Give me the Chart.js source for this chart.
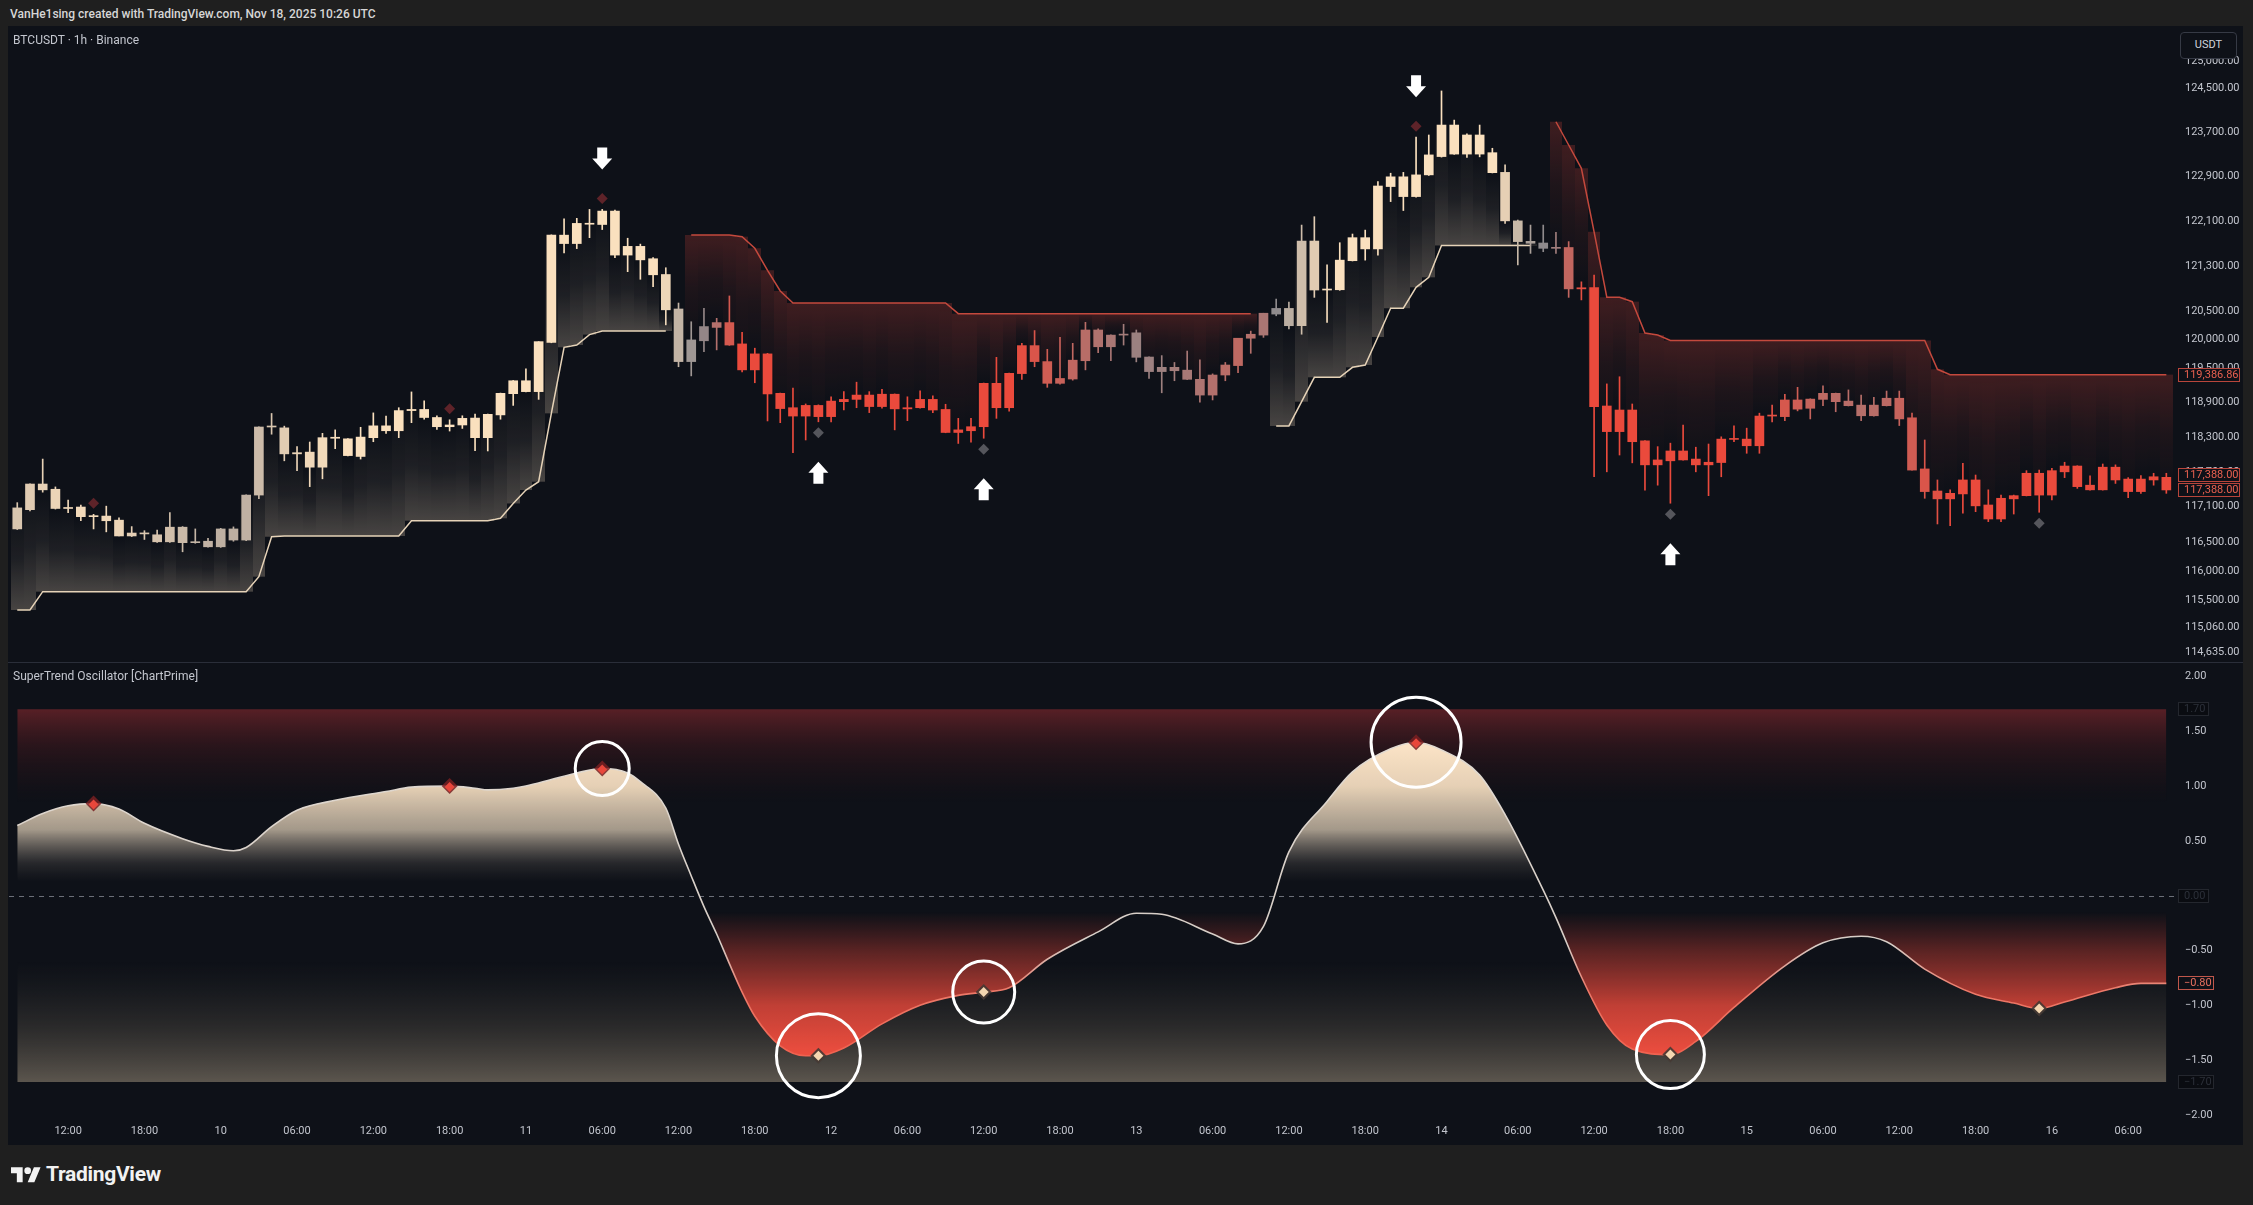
<!DOCTYPE html>
<html lang="en">
<head>
<meta charset="utf-8">
<title>BTCUSDT · 1h · SuperTrend Oscillator [ChartPrime]</title>
<script src="https://cdn.jsdelivr.net/npm/chart.js@4.4.1/dist/chart.umd.min.js"></script>
<style>
  html, body { margin: 0; padding: 0; }
  body { position: relative; width: 2253px; height: 1205px; overflow: hidden; background: #1f1f1f;
         font-family: Roboto, 'Noto Sans', 'DejaVu Sans', sans-serif; }
  #header { position: absolute; left: 10px; top: 7px; font-size: 12px; font-weight: 500; color: #d6d6d6; white-space: nowrap; }
  #panel { position: absolute; left: 8px; top: 26px; width: 2235px; height: 1119px; background: #0e1118; }
  .pane { position: absolute; left: 0; width: 2235px; }
  #pricePane { top: 0; height: 636px; }
  #oscPane { top: 637px; height: 482px; }
  #sep { position: absolute; left: 0; top: 636px; width: 2235px; height: 1px; background: #2a2e39; }
  .pane-title { position: absolute; left: 5px; font-size: 12px; line-height: 14px; color: #c3c6ce; white-space: nowrap; pointer-events: none; }
  #unit { position: absolute; left: 2172px; top: 6px; width: 57px; height: 27px; box-sizing: border-box; border: 1px solid #363a45;
          border-radius: 4px; background: #0e1118; color: #d1d4dc; font-size: 11px; line-height: 24px; text-align: center; }
  #footer { position: absolute; left: 11px; top: 1162px; display: flex; align-items: center; gap: 5px; color: #f2f2f2;
            font-size: 21px; font-weight: 700; letter-spacing: -0.3px; }
</style>
</head>
<body>
<div id="header">VanHe1sing created with TradingView.com, Nov 18, 2025 10:26 UTC</div>
<div id="panel">
  <div class="pane" id="pricePane"><canvas id="price" width="2235" height="636"></canvas></div>
  <div id="sep"></div>
  <div class="pane" id="oscPane"><canvas id="osc" width="2235" height="482"></canvas></div>
  <div class="pane-title" style="top:7px">BTCUSDT · 1h · Binance</div>
  <div class="pane-title" style="top:643px">SuperTrend Oscillator [ChartPrime]</div>
  <div id="unit">USDT</div>
</div>
<div id="footer">
  <svg width="30" height="20" viewBox="0 0 36 24"><path fill="#f2f2f2" d="M14 22H7V11H0V4h14v18zM28 22h-8l7.5-18h8L28 22z"/><circle fill="#f2f2f2" cx="20" cy="8" r="4"/></svg>
  <span>TradingView</span>
</div>

<script>
/* ════════════════════════════════════════════
   BTCUSDT 1h — candles, SuperTrend, oscillator
   ════════════════════════════════════════════ */

const _ = null;

// ── Candles (bar 0 = Nov 9 08:00, one bar per hour) ──
const openP = [
  116720,117050,117490,117400,117070,117095,116930,116940,116870,116600,
  116650,116620,116500,116750,116485,116510,116415,116720,116530,117300,
  118475,118460,118010,118040,117780,118290,118270,117965,118290,118495,
  118410,118760,118780,118640,118480,118510,118630,118290,118685,119055,
  119280,119090,119950,121850,121700,122060,122040,122280,121495,121650,
  121430,121150,120540,119615,119980,120215,120300,119925,119470,119750,
  119060,118810,118665,118850,118655,118915,118955,119030,118830,119045,
  118790,118810,118955,118780,118380,118410,118480,119235,118810,119405,
  119895,119615,119235,119310,119630,120170,119875,120080,120120,119695,
  119440,119515,119465,119305,119030,119380,119545,120025,120080,120450,
  120550,120245,121745,120875,120880,121395,121805,121605,122720,122895,
  122540,122930,123260,123830,123305,123650,123330,122975,122105,121740,
  121710,121615,121630,120895,120920,118840,118395,118770,118235,117820,
  117890,118060,117920,117820,117860,118265,118265,118150,118665,118655,
  118945,118800,118955,119060,118925,118855,118670,118845,118975,118635,
  117750,117370,117235,117320,117560,117130,116890,117235,117290,117675,
  117300,117700,117800,117470,117390,117780,117575,117360,117560,117605
];
const highP = [
  117170,117495,117920,117440,117215,117130,116970,117110,116910,116760,
  116690,116700,117000,116760,116720,116560,116730,116755,117305,118480,
  118710,118490,118135,118215,118365,118425,118275,118470,118720,118665,
  118810,119085,118930,118670,118600,118670,118700,118700,119065,119285,
  119490,119965,121855,122140,122150,122310,122310,122300,121795,121690,
  121450,121270,120645,120315,120550,120375,120770,120130,119850,119760,
  119065,119150,118875,118860,119000,119090,119255,119090,119130,119050,
  119000,119105,119015,118870,118625,118625,119240,119690,119415,119935,
  120160,119830,120040,119935,120305,120190,120085,120270,120170,119700,
  119720,119600,119800,119645,119400,119600,120025,120150,120465,120715,
  120660,122030,122180,121320,121715,121870,121940,122810,122960,122975,
  123610,123650,124450,123920,123670,123830,123410,123110,122120,122030,
  122030,121900,121735,121020,121140,119225,119350,118875,118240,118135,
  118195,118510,118125,118180,118305,118495,118455,118715,118855,119045,
  119165,118965,119190,119065,119120,119030,118990,119100,119100,118715,
  118250,117560,117390,117845,117645,117390,117300,117300,117720,117730,
  117760,117865,117805,117630,117835,117820,117600,117635,117675,117675
];
const lowP = [
  116710,117030,117350,117060,117000,116860,116720,116670,116600,116590,
  116540,116490,116490,116330,116475,116410,116405,116510,116520,117240,
  118350,117890,117720,117445,117580,118100,117975,117920,118220,118365,
  118290,118550,118610,118435,118405,118450,118065,118060,118610,118850,
  119085,118955,119945,121535,121610,121805,121950,121450,121200,121065,
  120935,120260,119525,119365,119790,119820,119900,119435,119245,118580,
  118550,118030,118250,118565,118565,118770,118810,118725,118800,118425,
  118585,118800,118725,118375,118190,118210,118280,118625,118750,119305,
  119525,119165,119220,119290,119470,119770,119630,119905,119610,119320,
  119070,119280,119300,118905,118945,119280,119420,119760,120040,120420,
  120190,120095,120745,120305,120870,121390,121405,121495,122450,122290,
  122530,122920,123250,123300,123245,123255,122965,122060,121320,121525,
  121555,121525,120745,120700,117615,117700,117990,117855,117385,117470,
  117160,117900,117700,117290,117615,118220,118020,118020,118565,118585,
  118755,118615,118845,118740,118840,118585,118665,118840,118500,117730,
  117245,116805,116775,116990,117015,116845,116845,116975,117285,117005,
  117215,117600,117415,117385,117385,117500,117255,117330,117470,117330
];
const closeP = [
  117080,117490,117390,117070,117085,116930,116940,116860,116600,116650,
  116635,116500,116750,116485,116500,116415,116720,116530,117300,118475,
  118480,118010,118030,117780,118290,118280,117980,118300,118495,118410,
  118760,118780,118640,118480,118510,118625,118290,118695,119060,119280,
  119090,119965,121850,121700,122060,122045,122280,121495,121650,121410,
  121145,120525,119615,119995,120230,120300,119905,119470,119750,119050,
  118795,118665,118850,118655,118925,118955,119030,118830,119045,118790,
  118810,118955,118770,118380,118425,118480,119235,118810,119410,119895,
  119615,119235,119320,119640,120170,119875,120080,120095,119690,119440,
  119515,119455,119305,119030,119380,119555,120025,120095,120465,120550,
  120245,121745,120875,120880,121405,121805,121605,122730,122895,122540,
  122930,123290,123830,123305,123650,123305,122970,122105,121735,121705,
  121615,121625,120895,120915,118830,118395,118770,118220,117820,117905,
  118060,117905,117820,117865,118265,118260,118150,118665,118670,118945,
  118785,118960,119060,118915,118845,118670,118855,118975,118615,117730,
  117360,117235,117330,117560,117115,116890,117245,117290,117675,117300,
  117720,117800,117445,117390,117780,117560,117360,117575,117615,117388
];

// ── SuperTrend levels (null = other side / switch bar) ──
const stUp = [
  115343,115343,115653,115653,115653,115653,115653,115653,115653,115653,
  115653,115653,115653,115653,115653,115653,115653,115653,115653,115907,
  116587,116599,116599,116599,116599,116599,116599,116599,116599,116599,
  116599,116861,116861,116861,116861,116861,116861,116861,116902,117156,
  117387,117530,118712,119866,119906,120089,120152,120152,120152,120152,
  120152,120152,_,_,_,_,_,_,_,_,
  _,_,_,_,_,_,_,_,_,_,
  _,_,_,_,_,_,_,_,_,_,
  _,_,_,_,_,_,_,_,_,_,
  _,_,_,_,_,_,_,_,_,118493,
  118493,118915,119340,119340,119340,119515,119556,120047,120553,120553,
  120923,121100,121666,121666,121666,121666,121666,121666,121666,121666,
  _,_,_,_,_,_,_,_,_,_,
  _,_,_,_,_,_,_,_,_,_,
  _,_,_,_,_,_,_,_,_,_,
  _,_,_,_,_,_,_,_,_,_,
  _,_,_,_,_,_,_,_,_,_
];
const stDn = [
  _,_,_,_,_,_,_,_,_,_,
  _,_,_,_,_,_,_,_,_,_,
  _,_,_,_,_,_,_,_,_,_,
  _,_,_,_,_,_,_,_,_,_,
  _,_,_,_,_,_,_,_,_,_,
  _,_,_,121853,121853,121853,121853,121823,121616,121225,
  120858,120645,120645,120645,120645,120645,120645,120645,120645,120645,
  120645,120645,120645,120645,120457,120457,120457,120457,120457,120457,
  120457,120457,120457,120457,120457,120457,120457,120457,120457,120457,
  120457,120457,120457,120457,120457,120457,120457,120457,_,_,
  _,_,_,_,_,_,_,_,_,_,
  _,_,_,_,_,_,_,_,_,_,
  _,123890,123469,123049,121910,120747,120747,120669,120117,120082,
  119985,119985,119985,119985,119985,119985,119985,119985,119985,119985,
  119985,119985,119985,119985,119985,119985,119985,119985,119985,119985,
  119985,119480,119386.86,119386.86,119386.86,119386.86,119386.86,119386.86,119386.86,119386.86,
  119386.86,119386.86,119386.86,119386.86,119386.86,119386.86,119386.86,119386.86,119386.86,119386.86
];

// ── Oscillator (bar index → value) ────────────
const oscBars = [0,2,4,6,8,10,13,15,17,18,20,22,25,29,31,34,36,37,39,40,42,44,46,48,49,51,52,53,54,55,
  56,57,58,60,62,63,65,68,71,74,76,78,81,85,88,90,94,96,98,100,103,105,108,110,112,115,117,120,121,123,
  125,127,130,132,135,139,142,145,147,150,154,157,159,161,165,167,169];
const oscVals = [0.64,0.75,0.82,0.84,0.79,0.66,0.52,0.45,0.41,0.44,0.63,0.78,0.87,0.95,0.99,1.00,0.98,0.965,0.98,1.00,
  1.06,1.12,1.16,1.12,1.04,0.80,0.47,0.18,-0.10,-0.35,-0.62,-0.88,-1.10,-1.37,-1.46,-1.46,-1.39,-1.17,-1.00,-0.91,
  -0.88,-0.84,-0.58,-0.33,-0.16,-0.17,-0.35,-0.44,-0.28,0.40,0.86,1.13,1.34,1.40,1.33,1.10,0.74,0.05,-0.20,-0.74,
  -1.18,-1.40,-1.45,-1.33,-1.02,-0.64,-0.43,-0.37,-0.42,-0.67,-0.90,-0.98,-1.03,-0.97,-0.84,-0.80,-0.80];
const oscBand = 1.7;

// ── Signals ───────────────────────────────────
const pivotHighs = [6, 34, 46, 110];
const pivotLows = [63, 76, 130, 159];
const signalBars = [46, 63, 76, 110, 130];

// ── Axis ticks ────────────────────────────────
const priceTicks = [125000, 124500, 123700, 122900, 122100, 121300, 120500, 120000, 119500, 118900,
  118300, 117700, 117100, 116500, 116000, 115500, 115060, 114635];
const oscTicks = [2, 1.5, 1, 0.5, -0.5, -1, -1.5, -2];
const timeTicks = ['12:00','18:00','10','06:00','12:00','18:00','11','06:00','12:00','18:00','12','06:00',
  '12:00','18:00','13','06:00','12:00','18:00','14','06:00','12:00','18:00','15','06:00','12:00','18:00','16','06:00'];

// ── Layout / style constants ──────────────────
const FONT = "Roboto, 'Noto Sans', sans-serif";
const AXIS_W = 67;
const X_MIN = -0.65, X_MAX = 169.76;
const RING_R = { 46: 27, 63: 42, 76: 31, 110: 45, 130: 34 };
const C_GRAY = [142, 138, 140], C_CREAM = [250, 224, 190], C_RED = [234, 74, 60];

Chart.defaults.font.family = FONT;

// ── Helpers ───────────────────────────────────
function oscAt(i) {
  for (let k = 1; k < oscBars.length; k++) {
    if (i <= oscBars[k]) {
      const t = (i - oscBars[k - 1]) / (oscBars[k] - oscBars[k - 1]);
      return oscVals[k - 1] + t * (oscVals[k] - oscVals[k - 1]);
    }
  }
  return oscVals[oscVals.length - 1];
}
function mix(a, b, t) {
  t = Math.min(1, Math.max(0, t));
  return `rgb(${a.map((v, k) => Math.round(v + (b[k] - v) * t)).join(',')})`;
}
function candleColor(v) {
  return v >= 0 ? mix(C_GRAY, C_CREAM, (v - 0.05) / 0.85) : mix(C_GRAY, C_RED, (-v - 0.05) / 0.75);
}
const fmtPrice = v => Number(v).toLocaleString('en-US', { minimumFractionDigits: 2, maximumFractionDigits: 2 });
const fmtOsc = v => (v < 0 ? '\u2212' : '') + Math.abs(v).toFixed(2);

function diamond(ctx, cx, cy, r, color) {
  ctx.beginPath();
  ctx.moveTo(cx, cy - r); ctx.lineTo(cx + r, cy); ctx.lineTo(cx, cy + r); ctx.lineTo(cx - r, cy);
  ctx.closePath();
  ctx.fillStyle = color;
  ctx.fill();
}
// dir = 1 → body extends downward from the tip (up arrow), -1 → upward (down arrow)
function arrow(ctx, cx, tipY, dir) {
  const hw = 10, sw = 5, hh = 11, sh = 11;
  ctx.beginPath();
  ctx.moveTo(cx, tipY);
  ctx.lineTo(cx + hw, tipY + dir * hh);
  ctx.lineTo(cx + sw, tipY + dir * hh);
  ctx.lineTo(cx + sw, tipY + dir * (hh + sh));
  ctx.lineTo(cx - sw, tipY + dir * (hh + sh));
  ctx.lineTo(cx - sw, tipY + dir * hh);
  ctx.lineTo(cx - hw, tipY + dir * hh);
  ctx.closePath();
  ctx.fillStyle = '#ffffff';
  ctx.fill();
}
function axisBox(chart, value, text, o) {
  const { ctx, chartArea, scales: { y } } = chart;
  const cy = Math.round(y.getPixelForValue(value) + (o.shift || 0));
  const x0 = chartArea.right + 2, h = 14;
  ctx.save();
  ctx.fillStyle = o.bg || '#0e1118';
  ctx.fillRect(x0, cy - h / 2, o.w, h);
  ctx.strokeStyle = o.border;
  ctx.lineWidth = 1;
  ctx.strokeRect(x0 + 0.5, cy - h / 2 + 0.5, o.w - 1, h - 1);
  ctx.fillStyle = o.color;
  ctx.font = `11px ${FONT}`;
  ctx.textBaseline = 'middle';
  ctx.textAlign = 'left';
  ctx.fillText(text, x0 + 6, cy + 0.5);
  ctx.restore();
}
function vGrad(chart, stops) {
  const y = chart.scales.y;
  if (!chart.chartArea || !y) return 'transparent';
  const y0 = y.getPixelForValue(stops[0][0]), y1 = y.getPixelForValue(stops[stops.length - 1][0]);
  const g = chart.ctx.createLinearGradient(0, y0, 0, y1);
  stops.forEach(([v, c]) => g.addColorStop((y.getPixelForValue(v) - y0) / (y1 - y0), c));
  return g;
}
// keep the chart area exactly on the pane: no auto padding for edge labels
function noPad(s) { s.paddingTop = 0; s.paddingBottom = 0; s.paddingLeft = 0; s.paddingRight = 0; }

const candleCols = closeP.map((c, i) => candleColor(oscAt(i)));

// ── Price pane plugins ────────────────────────
const trendGlow = {
  id: 'trendGlow',
  beforeDatasetsDraw(chart) {
    const { ctx, chartArea: a, scales: { x, y } } = chart;
    ctx.save();
    ctx.beginPath(); ctx.rect(a.left, a.top, a.width, a.height); ctx.clip();
    closeP.forEach((c, i) => {
      const up = stUp[i], dn = stDn[i];
      const lvl = up != null ? up : dn;
      if (lvl == null) return;
      const yL = y.getPixelForValue(lvl), yC = y.getPixelForValue(c);
      const xl = Math.round(x.getPixelForValue(i - 0.5)), xr = Math.round(x.getPixelForValue(i + 0.5));
      const rgb = up != null ? '228,208,182' : '168,56,50';
      const g = ctx.createLinearGradient(0, yL, 0, yC);
      g.addColorStop(0, `rgba(${rgb},${up != null ? 0.27 : 0.32})`);
      g.addColorStop(0.5, `rgba(${rgb},${up != null ? 0.08 : 0.11})`);
      g.addColorStop(1, `rgba(${rgb},0)`);
      ctx.fillStyle = g;
      ctx.fillRect(xl, Math.min(yL, yC), xr - xl, Math.abs(yC - yL));
    });
    ctx.restore();
  }
};

const priceMarks = {
  id: 'priceMarks',
  afterDatasetsDraw(chart) {
    const { ctx, scales: { x, y } } = chart;
    ctx.save();
    pivotHighs.forEach(i => {
      const cx = x.getPixelForValue(i), top = y.getPixelForValue(highP[i]);
      diamond(ctx, cx, top - 11, 5.5, '#5e2329');
      if (signalBars.includes(i)) arrow(ctx, cx, top - 40, -1);
    });
    pivotLows.forEach(i => {
      const cx = x.getPixelForValue(i), bot = y.getPixelForValue(lowP[i]);
      diamond(ctx, cx, bot + 11, 5.5, '#55565c');
      if (signalBars.includes(i)) arrow(ctx, cx, bot + 40, 1);
    });
    ctx.restore();
  },
  afterDraw(chart) {
    const last = closeP.length - 1;
    const red = { w: 62, border: '#b8453b', color: '#e8604f' };
    axisBox(chart, stDn[last], fmtPrice(stDn[last]), red);
    axisBox(chart, closeP[last], fmtPrice(closeP[last]), { ...red, shift: -14.5 });
    axisBox(chart, closeP[last], fmtPrice(closeP[last]), red);
  }
};

// ── Price chart ───────────────────────────────
new Chart(document.getElementById('price'), {
  type: 'bar',
  data: {
    datasets: [
      {
        type: 'bar', label: 'Body', order: 0, grouped: false,
        data: closeP.map((c, i) => ({ x: i, y: [openP[i], c] })),
        backgroundColor: candleCols, barThickness: 9, minBarLength: 1, borderWidth: 0, borderSkipped: false
      },
      {
        type: 'bar', label: 'Wick', order: 1, grouped: false,
        data: closeP.map((c, i) => ({ x: i, y: [lowP[i], highP[i]] })),
        backgroundColor: candleCols, barThickness: 1, minBarLength: 1, borderWidth: 0, borderSkipped: false
      },
      {
        type: 'line', label: 'SuperTrend up', order: 2,
        data: stUp.map((v, i) => ({ x: i, y: v })),
        borderColor: '#e6d3b8', borderWidth: 1.5, pointRadius: 0, spanGaps: false, tension: 0
      },
      {
        type: 'line', label: 'SuperTrend down', order: 2,
        data: stDn.map((v, i) => ({ x: i, y: v })),
        borderColor: '#c4493d', borderWidth: 1.5, pointRadius: 0, spanGaps: false, tension: 0
      }
    ]
  },
  options: {
    responsive: false, animation: false, devicePixelRatio: 1,
    layout: { autoPadding: false, padding: { left: 1, right: 0, top: 0, bottom: 0 } },
    plugins: { legend: { display: false }, tooltip: { enabled: false } },
    scales: {
      x: { type: 'linear', min: X_MIN, max: X_MAX, offset: false, display: false, grid: { display: false, offset: false },
           afterFit: noPad },
      y: {
        type: 'logarithmic', position: 'right', min: 114468, max: 125639, bounds: 'data',
        grid: { display: false, drawTicks: false }, border: { display: false },
        afterFit: s => { s.width = AXIS_W; noPad(s); },
        afterBuildTicks: s => { s.ticks = priceTicks.map(v => ({ value: v })); },
        ticks: { padding: 9, color: '#c3c6ce', font: { size: 11 }, autoSkip: false, callback: v => fmtPrice(v) }
      }
    }
  },
  plugins: [trendGlow, priceMarks]
});

// ── Oscillator pane plugins ───────────────────
const oscDecor = {
  id: 'oscDecor',
  beforeDatasetsDraw(chart) {
    const { ctx, chartArea: a, scales: { y } } = chart;
    const y0 = Math.round(y.getPixelForValue(0)) + 0.5;
    ctx.save();
    ctx.strokeStyle = 'rgba(170,175,185,0.6)';
    ctx.lineWidth = 1;
    ctx.setLineDash([5, 5]);
    ctx.beginPath(); ctx.moveTo(a.left, y0); ctx.lineTo(a.right, y0); ctx.stroke();
    ctx.restore();
  },
  afterDatasetsDraw(chart) {
    const { ctx, scales: { x, y } } = chart;
    const valAt = b => oscVals[oscBars.indexOf(b)];
    ctx.save();
    pivotHighs.forEach(b => {
      const cx = x.getPixelForValue(b), cy = y.getPixelForValue(valAt(b));
      diamond(ctx, cx, cy, 8, 'rgba(120,32,34,0.85)');
      diamond(ctx, cx, cy + 1, 5, '#e8473b');
    });
    pivotLows.forEach(b => {
      const cx = x.getPixelForValue(b), cy = y.getPixelForValue(valAt(b));
      diamond(ctx, cx, cy, 8, 'rgba(70,58,52,0.9)');
      diamond(ctx, cx, cy, 5, '#f4d7b1');
    });
    ctx.strokeStyle = '#ffffff';
    ctx.lineWidth = 3;
    signalBars.forEach(b => {
      ctx.beginPath();
      ctx.arc(x.getPixelForValue(b), y.getPixelForValue(valAt(b)), RING_R[b], 0, Math.PI * 2);
      ctx.stroke();
    });
    ctx.restore();
  },
  afterDraw(chart) {
    const dim = { border: '#24272e', color: '#2c3039', bg: '#0a0c11' };
    axisBox(chart, oscBand, fmtOsc(oscBand), { ...dim, w: 31 });
    axisBox(chart, 0, fmtOsc(0), { ...dim, w: 31 });
    axisBox(chart, -oscBand, fmtOsc(-oscBand), { ...dim, w: 36 });
    const lastV = oscVals[oscVals.length - 1];
    axisBox(chart, lastV, fmtOsc(lastV), { w: 36, border: '#c0574b', color: '#e8705f' });
  }
};

// ── Oscillator chart ──────────────────────────
new Chart(document.getElementById('osc'), {
  type: 'line',
  data: {
    datasets: [
      {
        label: 'Oscillator',
        data: oscBars.map((b, k) => ({ x: b, y: oscVals[k] })),
        borderWidth: 1.6, pointRadius: 0, cubicInterpolationMode: 'monotone',
        borderColor: c => vGrad(c.chart, [[1.5, '#e2dbd2'], [-0.45, '#d6cdc6'], [-0.85, '#ec7a6a'], [-1.5, '#f0604e']]),
        fill: 'origin',
        backgroundColor: c => vGrad(c.chart, [
          [1.45, 'rgba(255,231,202,1)'], [1.0, 'rgba(242,219,190,0.95)'], [0.6, 'rgba(214,198,176,0.75)'],
          [0.3, 'rgba(160,150,138,0.18)'], [0.12, 'rgba(120,112,104,0)'], [-0.15, 'rgba(200,60,50,0)'],
          [-0.5, 'rgba(214,66,54,0.38)'], [-1.0, 'rgba(232,74,60,0.82)'], [-1.5, 'rgba(242,80,64,1)']
        ])
      },
      {
        label: 'Upper band',
        data: oscBars.map(b => ({ x: b, y: oscBand })),
        borderColor: 'transparent', borderWidth: 0, pointRadius: 0, fill: '-1',
        backgroundColor: c => vGrad(c.chart, [
          [1.7, 'rgba(88,32,38,1)'], [1.35, 'rgba(62,24,30,0.55)'], [0.85, 'rgba(40,18,22,0)']
        ])
      },
      {
        label: 'Lower band',
        data: oscBars.map(b => ({ x: b, y: -oscBand })),
        borderColor: 'transparent', borderWidth: 0, pointRadius: 0, fill: '-2',
        backgroundColor: c => vGrad(c.chart, [
          [-0.6, 'rgba(50,48,46,0)'], [-1.2, 'rgba(72,68,62,0.5)'], [-1.7, 'rgba(92,86,78,1)']
        ])
      }
    ]
  },
  options: {
    responsive: false, animation: false, devicePixelRatio: 1,
    layout: { autoPadding: false, padding: { left: 1, right: 0, top: 0, bottom: 0 } },
    plugins: { legend: { display: false }, tooltip: { enabled: false } },
    scales: {
      x: {
        type: 'linear', min: X_MIN, max: X_MAX, offset: false, bounds: 'data',
        grid: { display: false, drawTicks: false }, border: { display: false },
        afterFit: s => { s.height = 24; noPad(s); },
        afterBuildTicks: s => { s.ticks = timeTicks.map((t, k) => ({ value: 4 + 6 * k })); },
        ticks: {
          padding: 4, color: '#c3c6ce', font: { size: 11 }, autoSkip: false, maxRotation: 0,
          callback: v => timeTicks[Math.round((v - 4) / 6)] || ''
        }
      },
      y: {
        type: 'linear', position: 'right', min: -2.056, max: 2.123, bounds: 'data',
        grid: { display: false, drawTicks: false }, border: { display: false },
        afterFit: s => { s.width = AXIS_W; noPad(s); },
        afterBuildTicks: s => { s.ticks = oscTicks.map(v => ({ value: v })); },
        ticks: { padding: 9, color: '#c3c6ce', font: { size: 11 }, autoSkip: false, callback: v => fmtOsc(v) }
      }
    }
  },
  plugins: [oscDecor]
});
</script>
</body>
</html>
